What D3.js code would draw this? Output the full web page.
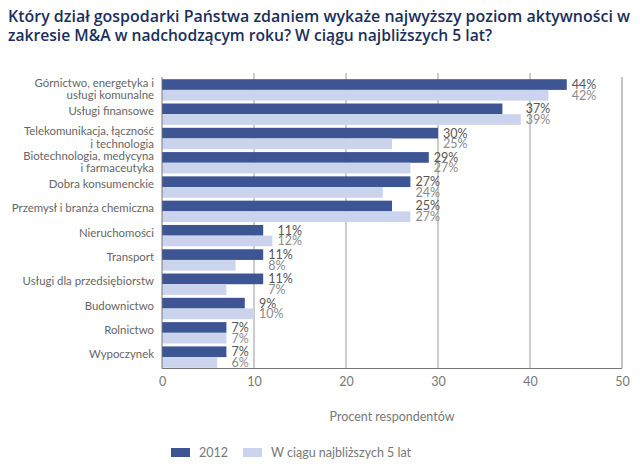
<!DOCTYPE html>
<html><head><meta charset="utf-8">
<script src="https://cdn.jsdelivr.net/npm/d3@7"></script>
<style>body{margin:0;background:#fff;}svg{display:block;}</style>
</head><body>
<script>
const categories = [
  ["Górnictwo, energetyka i","usługi komunalne"],
  ["Usługi finansowe"],
  ["Telekomunikacja, łączność","i technologia"],
  ["Biotechnologia, medycyna","i farmaceutyka"],
  ["Dobra konsumenckie"],
  ["Przemysł i branża chemiczna"],
  ["Nieruchomości"],
  ["Transport"],
  ["Usługi dla przedsiębiorstw"],
  ["Budownictwo"],
  ["Rolnictwo"],
  ["Wypoczynek"]
];
const values2012 = [44,37,30,29,27,25,11,11,11,9,7,7];
const values5yr  = [42,39,25,27,24,27,12,8,7,10,7,6];
const seriesNames = ["2012","W ciągu najbliższych 5 lat"];
const xTicks = [0,10,20,30,40,50];
const titleLines = ["Który dział gospodarki Państwa zdaniem wykaże najwyższy poziom aktywności w","zakresie M&A w nadchodzącym roku? W ciągu najbliższych 5 lat?"];
const xTitle = "Procent respondentów";

const W=640,H=468;
const dark="#3d5593", light="#cbd4ec";
const FONT="Lato";
const svg=d3.select("body").append("svg").attr("width",W).attr("height",H);

const x=d3.scaleLinear().domain([0,50]).range([162,622]);
const ids=categories.map((c,i)=>i);
const y=d3.scaleBand().domain(ids).range([78,369]).paddingInner(0.12).paddingOuter(0.05);
const bh=y.bandwidth()/2;

// title
const title=svg.append("g");
titleLines.forEach((t,i)=>{
  const tx=title.append("text").attr("x",8).attr("y",22+i*19)
    .attr("font-family","Open Sans").attr("font-weight",600).attr("font-size",16.5)
    .attr("fill","#1b2f5c").text(t);
  tx.attr("textLength",i===0?622:484).attr("lengthAdjust","spacingAndGlyphs");
});

// gridlines
svg.append("g").selectAll("line").data(xTicks.slice(1)).join("line")
  .attr("x1",d=>x(d)).attr("x2",d=>x(d)).attr("y1",d=>d===50?77:73).attr("y2",368)
  .attr("stroke",d=>d===50?"#888":"#999").attr("stroke-width",1);

// bars
const g=svg.append("g");
g.selectAll("rect.a").data(ids).join("rect").attr("class","a")
  .attr("x",x(0)).attr("y",i=>y(i)).attr("width",i=>x(values2012[i])-x(0)).attr("height",bh)
  .attr("fill",dark);
g.selectAll("rect.b").data(ids).join("rect").attr("class","b")
  .attr("x",x(0)).attr("y",i=>y(i)+bh).attr("width",i=>x(values5yr[i])-x(0)).attr("height",bh)
  .attr("fill",light);

// value labels
const lab=svg.append("g").attr("font-family",FONT).attr("font-size",12.5);
lab.selectAll("text.a").data(ids).join("text").attr("class","a")
  .attr("x",i=>x(Math.max(values2012[i],values5yr[i]))+5).attr("y",i=>y(i)+bh/2).attr("dy","0.35em")
  .attr("fill","#555").text(i=>values2012[i]+"%");
lab.selectAll("text.b").data(ids).join("text").attr("class","b")
  .attr("x",i=>x(Math.max(values2012[i],values5yr[i]))+5).attr("y",i=>y(i)+bh*1.5).attr("dy","0.35em")
  .attr("fill","#8a8a8a").text(i=>values5yr[i]+"%");

// frame: left & bottom axis lines
svg.append("line").attr("x1",x(0)).attr("x2",x(0)).attr("y1",77).attr("y2",368.5).attr("stroke","#777");
svg.append("line").attr("x1",x(0)).attr("x2",x(50)).attr("y1",368.5).attr("y2",368.5).attr("stroke","#777");

// category labels
const cl=svg.append("g").attr("font-family",FONT).attr("font-size",11.4).attr("fill","#666").attr("text-anchor","end");
ids.forEach(i=>{
  const lines=categories[i];
  const cy=y(i)+y.bandwidth()/2 - (lines.length===1?3:1);
  lines.forEach((l,k)=>{
    cl.append("text").attr("x",154).attr("y",cy+(k-(lines.length-1)/2)*12.5).attr("dy","0.35em").text(l);
  });
});

// x axis
const xa=svg.append("g").attr("transform","translate(0,368)")
  .call(d3.axisBottom(x).tickValues(xTicks).tickSize(0).tickPadding(9));
xa.select(".domain").remove();
xa.selectAll("text").attr("font-family",FONT).attr("font-size",12.5).attr("fill","#777");

svg.append("text").attr("x",392).attr("y",417).attr("dy","0.35em").attr("text-anchor","middle")
  .attr("font-family",FONT).attr("font-size",12.5).attr("fill","#777").text(xTitle);

// legend
const leg=svg.append("g").attr("font-family",FONT).attr("font-size",12.5).attr("fill","#777");
const lx=[171,243];
[dark,light].forEach((c,k)=>{
  leg.append("rect").attr("x",lx[k]).attr("y",448).attr("width",19).attr("height",9).attr("fill",c);
  leg.append("text").attr("x",lx[k]+28).attr("y",452.5).attr("dy","0.35em").text(seriesNames[k]);
});
</script>
</body></html>
